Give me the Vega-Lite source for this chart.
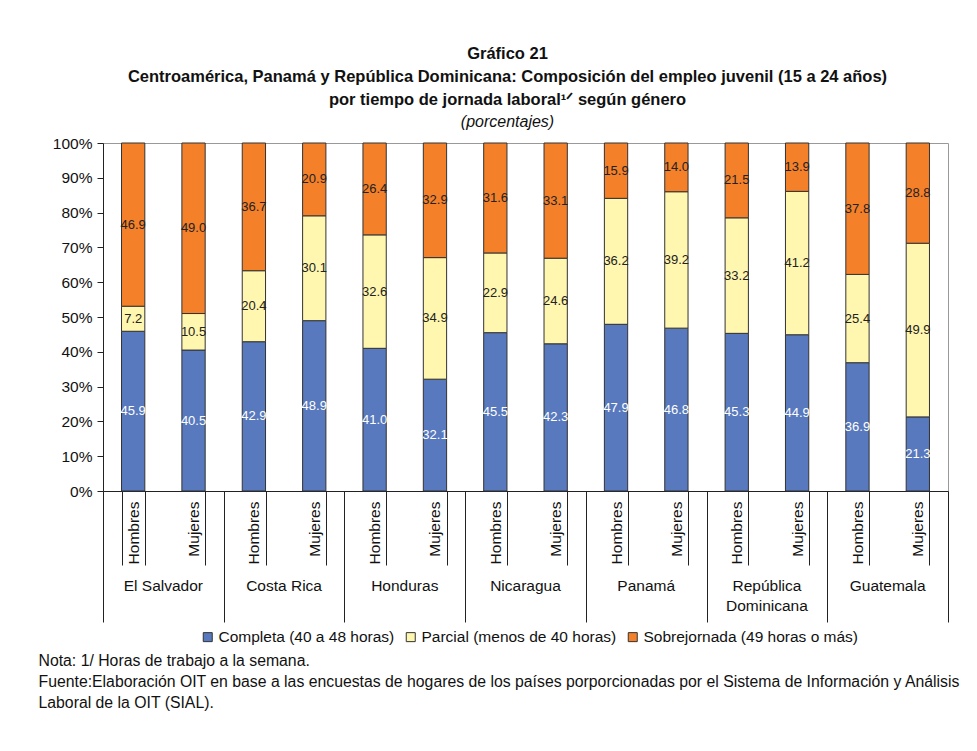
{
  "$schema": "https://vega.github.io/schema/vega-lite/v6.json",
  "width": 845,
  "height": 348,
  "autosize": {"type": "none"},
  "padding": {"left": 103, "top": 143, "right": 29, "bottom": 260},
  "background": "white",
  "title": {
    "text": [
      "Gráfico 21",
      "Centroamérica, Panamá y República Dominicana: Composición del empleo juvenil (15 a 24 años)",
      "por tiempo de jornada laboral¹ᐟ según género"
    ],
    "subtitle": "(porcentajes)",
    "anchor": "middle",
    "dx": -18,
    "offset": 6,
    "font": "Liberation Sans",
    "fontSize": 16.5,
    "fontWeight": "bold",
    "lineHeight": 23,
    "color": "#111",
    "subtitleFont": "Liberation Sans",
    "subtitleFontSize": 16,
    "subtitleFontStyle": "italic",
    "subtitleColor": "#111",
    "subtitlePadding": 6
  },
  "datasets": {
    "empleo": [
      {"pais": "El Salvador", "genero": "Hombres", "barra": "El Salvador|Hombres", "jornada": "Completa (40 a 48 horas)", "valor": 45.9},
      {"pais": "El Salvador", "genero": "Hombres", "barra": "El Salvador|Hombres", "jornada": "Parcial (menos de 40 horas)", "valor": 7.2},
      {"pais": "El Salvador", "genero": "Hombres", "barra": "El Salvador|Hombres", "jornada": "Sobrejornada (49 horas o más)", "valor": 46.9},
      {"pais": "El Salvador", "genero": "Mujeres", "barra": "El Salvador|Mujeres", "jornada": "Completa (40 a 48 horas)", "valor": 40.5},
      {"pais": "El Salvador", "genero": "Mujeres", "barra": "El Salvador|Mujeres", "jornada": "Parcial (menos de 40 horas)", "valor": 10.5},
      {"pais": "El Salvador", "genero": "Mujeres", "barra": "El Salvador|Mujeres", "jornada": "Sobrejornada (49 horas o más)", "valor": 49.0},
      {"pais": "Costa Rica", "genero": "Hombres", "barra": "Costa Rica|Hombres", "jornada": "Completa (40 a 48 horas)", "valor": 42.9},
      {"pais": "Costa Rica", "genero": "Hombres", "barra": "Costa Rica|Hombres", "jornada": "Parcial (menos de 40 horas)", "valor": 20.4},
      {"pais": "Costa Rica", "genero": "Hombres", "barra": "Costa Rica|Hombres", "jornada": "Sobrejornada (49 horas o más)", "valor": 36.7},
      {"pais": "Costa Rica", "genero": "Mujeres", "barra": "Costa Rica|Mujeres", "jornada": "Completa (40 a 48 horas)", "valor": 48.9},
      {"pais": "Costa Rica", "genero": "Mujeres", "barra": "Costa Rica|Mujeres", "jornada": "Parcial (menos de 40 horas)", "valor": 30.1},
      {"pais": "Costa Rica", "genero": "Mujeres", "barra": "Costa Rica|Mujeres", "jornada": "Sobrejornada (49 horas o más)", "valor": 20.9},
      {"pais": "Honduras", "genero": "Hombres", "barra": "Honduras|Hombres", "jornada": "Completa (40 a 48 horas)", "valor": 41.0},
      {"pais": "Honduras", "genero": "Hombres", "barra": "Honduras|Hombres", "jornada": "Parcial (menos de 40 horas)", "valor": 32.6},
      {"pais": "Honduras", "genero": "Hombres", "barra": "Honduras|Hombres", "jornada": "Sobrejornada (49 horas o más)", "valor": 26.4},
      {"pais": "Honduras", "genero": "Mujeres", "barra": "Honduras|Mujeres", "jornada": "Completa (40 a 48 horas)", "valor": 32.1},
      {"pais": "Honduras", "genero": "Mujeres", "barra": "Honduras|Mujeres", "jornada": "Parcial (menos de 40 horas)", "valor": 34.9},
      {"pais": "Honduras", "genero": "Mujeres", "barra": "Honduras|Mujeres", "jornada": "Sobrejornada (49 horas o más)", "valor": 32.9},
      {"pais": "Nicaragua", "genero": "Hombres", "barra": "Nicaragua|Hombres", "jornada": "Completa (40 a 48 horas)", "valor": 45.5},
      {"pais": "Nicaragua", "genero": "Hombres", "barra": "Nicaragua|Hombres", "jornada": "Parcial (menos de 40 horas)", "valor": 22.9},
      {"pais": "Nicaragua", "genero": "Hombres", "barra": "Nicaragua|Hombres", "jornada": "Sobrejornada (49 horas o más)", "valor": 31.6},
      {"pais": "Nicaragua", "genero": "Mujeres", "barra": "Nicaragua|Mujeres", "jornada": "Completa (40 a 48 horas)", "valor": 42.3},
      {"pais": "Nicaragua", "genero": "Mujeres", "barra": "Nicaragua|Mujeres", "jornada": "Parcial (menos de 40 horas)", "valor": 24.6},
      {"pais": "Nicaragua", "genero": "Mujeres", "barra": "Nicaragua|Mujeres", "jornada": "Sobrejornada (49 horas o más)", "valor": 33.1},
      {"pais": "Panamá", "genero": "Hombres", "barra": "Panamá|Hombres", "jornada": "Completa (40 a 48 horas)", "valor": 47.9},
      {"pais": "Panamá", "genero": "Hombres", "barra": "Panamá|Hombres", "jornada": "Parcial (menos de 40 horas)", "valor": 36.2},
      {"pais": "Panamá", "genero": "Hombres", "barra": "Panamá|Hombres", "jornada": "Sobrejornada (49 horas o más)", "valor": 15.9},
      {"pais": "Panamá", "genero": "Mujeres", "barra": "Panamá|Mujeres", "jornada": "Completa (40 a 48 horas)", "valor": 46.8},
      {"pais": "Panamá", "genero": "Mujeres", "barra": "Panamá|Mujeres", "jornada": "Parcial (menos de 40 horas)", "valor": 39.2},
      {"pais": "Panamá", "genero": "Mujeres", "barra": "Panamá|Mujeres", "jornada": "Sobrejornada (49 horas o más)", "valor": 14.0},
      {"pais": "República Dominicana", "genero": "Hombres", "barra": "República Dominicana|Hombres", "jornada": "Completa (40 a 48 horas)", "valor": 45.3},
      {"pais": "República Dominicana", "genero": "Hombres", "barra": "República Dominicana|Hombres", "jornada": "Parcial (menos de 40 horas)", "valor": 33.2},
      {"pais": "República Dominicana", "genero": "Hombres", "barra": "República Dominicana|Hombres", "jornada": "Sobrejornada (49 horas o más)", "valor": 21.5},
      {"pais": "República Dominicana", "genero": "Mujeres", "barra": "República Dominicana|Mujeres", "jornada": "Completa (40 a 48 horas)", "valor": 44.9},
      {"pais": "República Dominicana", "genero": "Mujeres", "barra": "República Dominicana|Mujeres", "jornada": "Parcial (menos de 40 horas)", "valor": 41.2},
      {"pais": "República Dominicana", "genero": "Mujeres", "barra": "República Dominicana|Mujeres", "jornada": "Sobrejornada (49 horas o más)", "valor": 13.9},
      {"pais": "Guatemala", "genero": "Hombres", "barra": "Guatemala|Hombres", "jornada": "Completa (40 a 48 horas)", "valor": 36.9},
      {"pais": "Guatemala", "genero": "Hombres", "barra": "Guatemala|Hombres", "jornada": "Parcial (menos de 40 horas)", "valor": 25.4},
      {"pais": "Guatemala", "genero": "Hombres", "barra": "Guatemala|Hombres", "jornada": "Sobrejornada (49 horas o más)", "valor": 37.8},
      {"pais": "Guatemala", "genero": "Mujeres", "barra": "Guatemala|Mujeres", "jornada": "Completa (40 a 48 horas)", "valor": 21.3},
      {"pais": "Guatemala", "genero": "Mujeres", "barra": "Guatemala|Mujeres", "jornada": "Parcial (menos de 40 horas)", "valor": 49.9},
      {"pais": "Guatemala", "genero": "Mujeres", "barra": "Guatemala|Mujeres", "jornada": "Sobrejornada (49 horas o más)", "valor": 28.8}
    ],
    "paises": [
      {"pais": "El Salvador"},
      {"pais": "Costa Rica"},
      {"pais": "Honduras"},
      {"pais": "Nicaragua"},
      {"pais": "Panamá"},
      {"pais": "República\nDominicana"},
      {"pais": "Guatemala"}
    ]
  },
  "layer": [
    {
      "layer": [
        {
          "data": {"name": "empleo"},
          "mark": {"type": "bar", "stroke": "#333", "strokeWidth": 1},
          "encoding": {
            "x": {
              "field": "barra",
              "type": "nominal",
              "sort": null,
              "scale": {"paddingInner": 0.614, "paddingOuter": 0.307},
              "axis": {
                "orient": "bottom",
                "title": null,
                "labelExpr": "split(datum.label, '|')[1]",
                "labelAngle": -90,
                "labelAlign": "right",
                "labelBaseline": "middle",
                "labelPadding": -64,
                "labelFont": "Liberation Sans",
                "labelFontSize": 15.5,
                "labelColor": "#111",
                "tickBand": "extent",
                "tickSize": 74,
                "tickColor": "#222",
                "domainColor": "#222"
              }
            },
            "y": {
              "field": "valor",
              "type": "quantitative",
              "stack": "normalize",
              "scale": {"domain": [0, 1], "nice": false},
              "axis": {
                "title": null,
                "format": ".0%",
                "values": [0, 0.1, 0.2, 0.3, 0.4, 0.5, 0.6, 0.7, 0.8, 0.9, 1],
                "labelOverlap": false
              }
            },
            "color": {
              "field": "jornada",
              "type": "nominal",
              "scale": {
                "domain": ["Completa (40 a 48 horas)", "Parcial (menos de 40 horas)", "Sobrejornada (49 horas o más)"],
                "range": ["#5879BD", "#FFF6AF", "#F5802A"]
              },
              "legend": {
                "title": null,
                "orient": "none",
                "legendX": 97,
                "legendY": 486,
                "direction": "horizontal",
                "columns": 3,
                "columnPadding": 8,
                "padding": 0,
                "symbolType": "square",
                "symbolSize": 81,
                "symbolStrokeColor": "#333",
                "symbolStrokeWidth": 1,
                "labelOffset": 3,
                "labelLimit": 0,
                "labelFont": "Liberation Sans",
                "labelFontSize": 15.5,
                "labelColor": "#111"
              }
            },
            "order": {"field": "jornada"}
          }
        },
        {
          "data": {"name": "empleo"},
          "mark": {"type": "text", "font": "Liberation Sans", "fontSize": 13, "baseline": "middle"},
          "encoding": {
            "x": {"field": "barra", "type": "nominal", "sort": null},
            "y": {
              "field": "valor",
              "type": "quantitative",
              "stack": "normalize",
              "bandPosition": 0.5,
              "axis": {
                "title": null,
                "format": ".0%",
                "values": [0, 0.1, 0.2, 0.3, 0.4, 0.5, 0.6, 0.7, 0.8, 0.9, 1],
                "labelOverlap": false
              }
            },
            "detail": {"field": "jornada"},
            "order": {"field": "jornada"},
            "text": {"field": "valor", "type": "quantitative", "format": ".1f"},
            "color": {
              "condition": {"test": "datum.jornada === 'Completa (40 a 48 horas)'", "value": "white"},
              "value": "#222"
            }
          }
        }
      ]
    },
    {
      "data": {"name": "paises"},
      "mark": {"type": "text", "font": "Liberation Sans", "fontSize": 15.5, "baseline": "top", "lineBreak": "\n", "lineHeight": 20, "color": "#111"},
      "encoding": {
        "x": {
          "field": "pais",
          "type": "nominal",
          "sort": null,
          "scale": {"paddingInner": 0, "paddingOuter": 0},
          "axis": {
            "orient": "bottom",
            "labels": false,
            "domain": false,
            "tickBand": "extent",
            "tickSize": 131,
            "tickColor": "#222",
            "title": [
              "Nota: 1/ Horas de trabajo a la semana.",
              "Fuente:Elaboración OIT en base a las encuestas de hogares de los países porporcionadas por el Sistema de Información y Análisis",
              "Laboral de la OIT (SIAL)."
            ],
            "titleAnchor": "start",
            "titleAlign": "left",
            "titleAngle": 0,
            "titleBaseline": "top",
            "titleX": -65,
            "titleY": 162,
            "titleFont": "Liberation Sans",
            "titleFontSize": 15.8,
            "titleFontWeight": "normal",
            "titleLineHeight": 21,
            "titleColor": "#111"
          }
        },
        "y": {
          "datum": -0.252,
          "type": "quantitative",
          "axis": {
            "title": null,
            "format": ".0%",
            "values": [0, 0.1, 0.2, 0.3, 0.4, 0.5, 0.6, 0.7, 0.8, 0.9, 1],
            "labelOverlap": false
          }
        },
        "text": {"field": "pais"}
      }
    }
  ],
  "resolve": {"scale": {"x": "independent"}, "axis": {"x": "independent"}},
  "config": {
    "view": {"stroke": "#999", "strokeWidth": 1},
    "axis": {"grid": false},
    "axisY": {
      "labelFont": "Liberation Sans",
      "labelFontSize": 15.5,
      "labelColor": "#111",
      "labelPadding": 5,
      "tickSize": 6,
      "tickColor": "#222",
      "domainColor": "#222"
    }
  }
}
